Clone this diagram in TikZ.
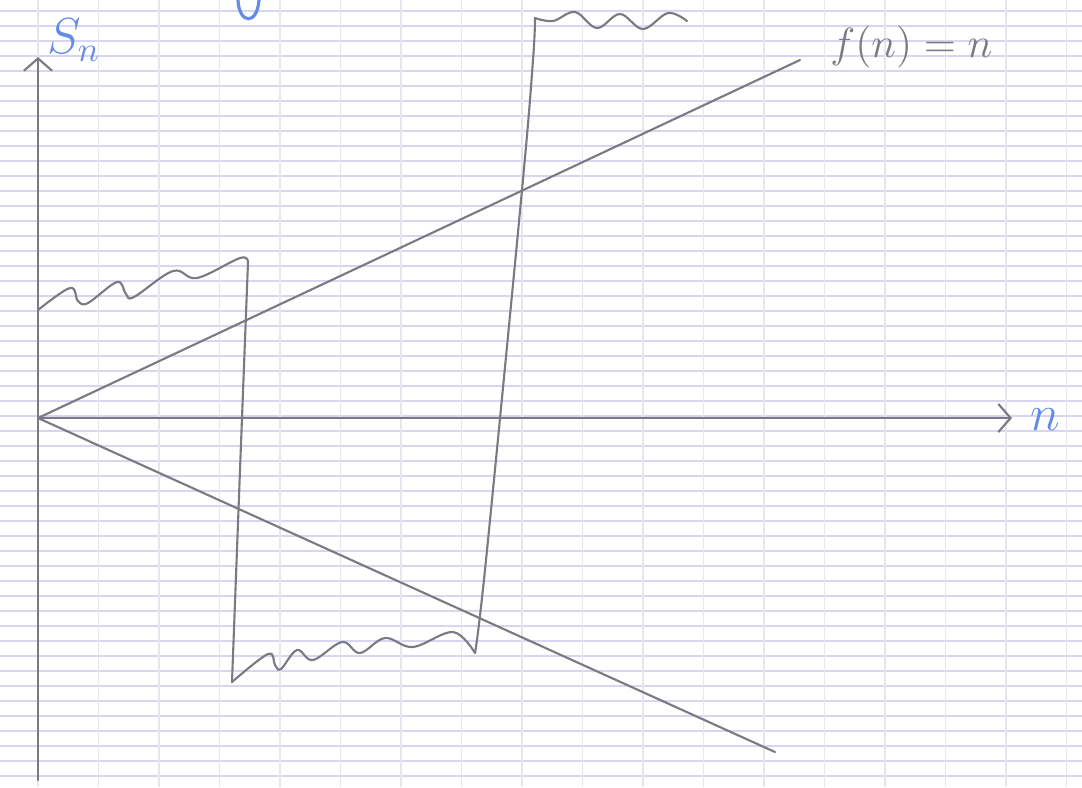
\documentclass[tikz,border=0pt]{standalone}
\usepackage{xcolor}
\usepackage{tikz}
\usetikzlibrary{arrows.meta}
\definecolor{lapiz}{RGB}{122,122,132}
\definecolor{tinta}{RGB}{100,140,228}
\definecolor{renglon}{RGB}{214,214,242}
\definecolor{margen}{RGB}{230,230,240}

\begin{document}
\begin{tikzpicture}[x=0.01cm, y=-0.01cm,
    trazo/.style={lapiz, line width=0.6pt, line cap=round, line join=round},
    eje/.style={trazo, -{Straight Barb[length=3.5pt, width=8pt]}},
    onda/.style={trazo, smooth, tension=0.6}]
  \useasboundingbox (0,0) rectangle (1082,787);
  % papel
  \fill[white] (0,0) rectangle (1082,787);
  \foreach \y in {11,26,...,787}
    \draw[renglon, line width=0.3pt] (0,\y) -- (1082,\y);
  \foreach \x in {38,98.5,...,1082}
    \draw[margen, line width=0.3pt] (\x,0) -- (\x,787);
  % ejes
  \coordinate (O) at (38,418);
  \coordinate (abajo) at (38,780);
  \coordinate (arriba) at (38,57);
  \coordinate (derecha) at (1012,418);
  \draw[eje] (abajo) -- (arriba);
  \draw[eje] (O) -- (derecha);
  \node[tinta, font=\Large] (Sn) at (74,40) {$S_n$};
  \node[tinta, font=\Large] (n) at (1045,420) {$n$};
  % rectas
  \coordinate (finsup) at (800,60);
  \coordinate (fininf) at (775,752);
  \draw[trazo] (O) -- (finsup);
  \draw[trazo] (O) -- (fininf);
  \node[lapiz, font=\large, anchor=west] (fn) at (818,47) {$f(n)=n$};
  % suite
  \coordinate (a) at (248,262);
  \coordinate (b) at (232,682);
  \coordinate (c) at (475,653);
  \coordinate (d) at (535,18);
  \draw[onda] plot coordinates {(38,310) (70,288) (78,301) (88,303) (117,282)
    (126,294) (134,297) (173,271) (197,278) (240,258) (248,262)};
  \draw[trazo] (a) -- (240,470) -- (b);
  \draw[onda] plot coordinates {(232,682) (268,654) (275,665) (281,669) (297,650)
    (313,660) (342,642) (360,653) (385,638) (413,647) (453,632) (475,653)};
  \draw[onda] plot coordinates {(475,653) (486,560) (522,190) (533,60) (535,18)};
  \draw[onda] plot coordinates {(535,18) (553,21) (575,12) (597,28)
    (620,14) (643,29) (668,13) (687,21)};
  % trazo azul
  \draw[tinta, line width=0.9pt, line cap=round] (238,0) .. controls (239,24) and (257,26) .. (259,0);
\end{tikzpicture}
\end{document}
